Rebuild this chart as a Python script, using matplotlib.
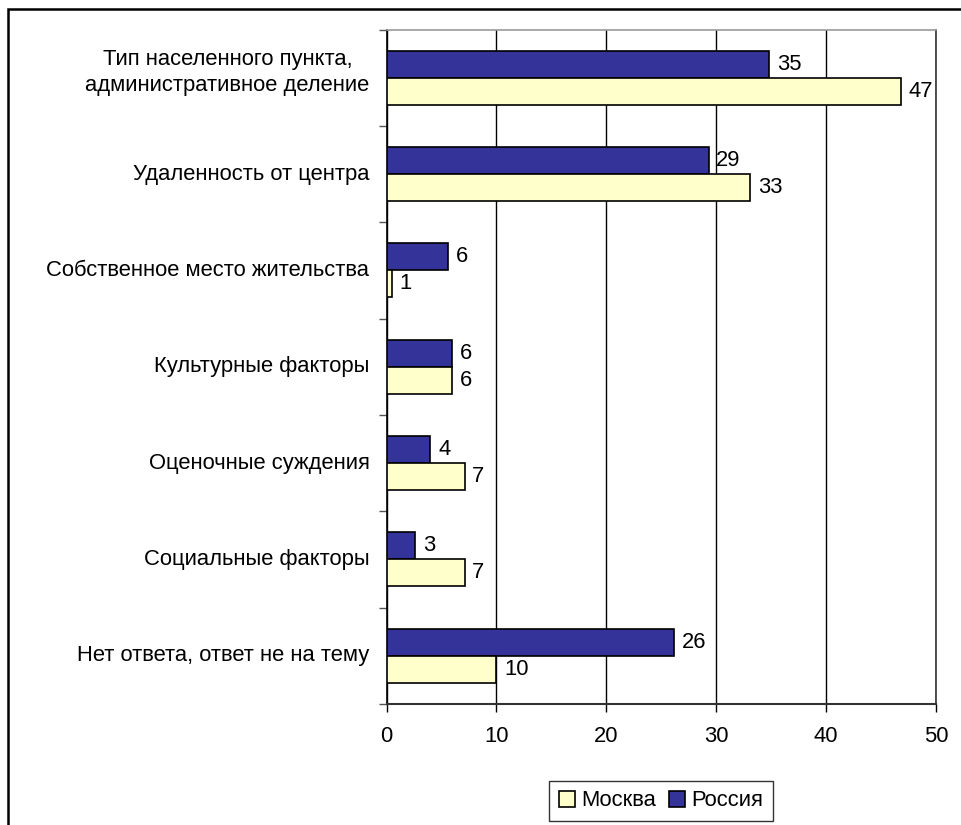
import matplotlib
matplotlib.use("Agg")
import matplotlib.pyplot as plt
from matplotlib.patches import Rectangle, Patch
from matplotlib.ticker import FixedLocator, NullFormatter
from matplotlib.transforms import blended_transform_factory

plt.rcParams['font.family'] = ['Liberation Sans', 'DejaVu Sans']

categories = [
    "Тип населенного пункта,\nадминистративное деление",
    "Удаленность от центра",
    "Собственное место жительства",
    "Культурные факторы",
    "Оценочные суждения",
    "Социальные факторы",
    "Нет ответа, ответ не на тему",
]
russia = [34.8, 29.3, 5.6, 6.0, 4.0, 2.6, 26.2]
moscow = [46.8, 33.1, 0.5, 6.0, 7.1, 7.1, 10.0]
series_names = ["Москва", "Россия"]
xticks = [0, 10, 20, 30, 40, 50]

W, H = 961, 825
fig = plt.figure(figsize=(W / 100, H / 100), dpi=100)
left, right, top, bottom = 386.5, 936, 29.5, 704
aw = right - left
ax = fig.add_axes([left / W, 1 - bottom / H, aw / W, (bottom - top) / H])

FS = 15.8
pos = list(range(len(categories)))
bh = 0.28
c_rus = "#333399"
c_mos = "#FFFFCC"

ax.barh([p - bh / 2 for p in pos], russia, height=bh, color=c_rus,
        edgecolor="black", linewidth=1.2, zorder=3)
ax.barh([p + bh / 2 for p in pos], moscow, height=bh, color=c_mos,
        edgecolor="black", linewidth=1.2, zorder=3)

for p, v in zip(pos, russia):
    ax.text(v + 0.7, p - bh / 2, f"{int(v + 0.5)}", va="center", ha="left", fontsize=FS)
for p, v in zip(pos, moscow):
    ax.text(v + 0.7, p + bh / 2, f"{int(v + 0.5)}", va="center", ha="left", fontsize=FS)

ax.set_xlim(0, 50)
ax.set_ylim(len(categories) - 0.5, -0.5)
ax.set_xticks(xticks)
ax.set_xticklabels([str(t) for t in xticks], fontsize=FS)
ax.tick_params(axis="x", direction="out", length=6, width=1, pad=10, colors="black")

ax.yaxis.set_major_locator(FixedLocator([p - 0.5 for p in pos] + [len(pos) - 0.5]))
ax.yaxis.set_major_formatter(NullFormatter())
ax.tick_params(axis="y", which="major", direction="out", length=6, width=1, color="#555555")

# category labels (right-aligned, centred lines)
trans = blended_transform_factory(ax.transAxes, ax.transData)
for p, lab in zip(pos, categories):
    yoff = -0.05 if "\n" in lab else 0.0
    ax.text((369.5 - left) / aw, p + yoff, lab, transform=trans, ha="right", va="center",
            multialignment="center", fontsize=FS, linespacing=1.3, clip_on=False)

ax.grid(axis="x", color="black", linewidth=1, zorder=0)
ax.set_axisbelow(True)
ax.spines["left"].set_color("black")
ax.spines["left"].set_linewidth(1.2)
ax.spines["bottom"].set_color("#333333")
ax.spines["bottom"].set_linewidth(1.5)
ax.spines["top"].set_color("#999999")
ax.spines["top"].set_linewidth(1.2)
ax.spines["right"].set_color("#333333")
ax.spines["right"].set_linewidth(1.2)

handles = [Patch(facecolor=c_mos, edgecolor="black", linewidth=1.2),
           Patch(facecolor=c_rus, edgecolor="black", linewidth=1.2)]
leg = fig.legend(handles, series_names, loc="center",
                 bbox_to_anchor=(661 / W, 1 - 801 / H), ncol=2, fontsize=FS,
                 frameon=True, fancybox=False, shadow=False,
                 handlelength=0.75, handleheight=0.75, handletextpad=0.3,
                 columnspacing=0.55, borderpad=0.45, borderaxespad=0)
leg.get_frame().set_edgecolor("black")
leg.get_frame().set_linewidth(1.0)

fig.patches.append(Rectangle((8 / W, -0.1), 1.2, 1.1 - 9.5 / H, transform=fig.transFigure,
                             fill=False, edgecolor="black", linewidth=1.8))

fig.savefig("out.png", dpi=100)
